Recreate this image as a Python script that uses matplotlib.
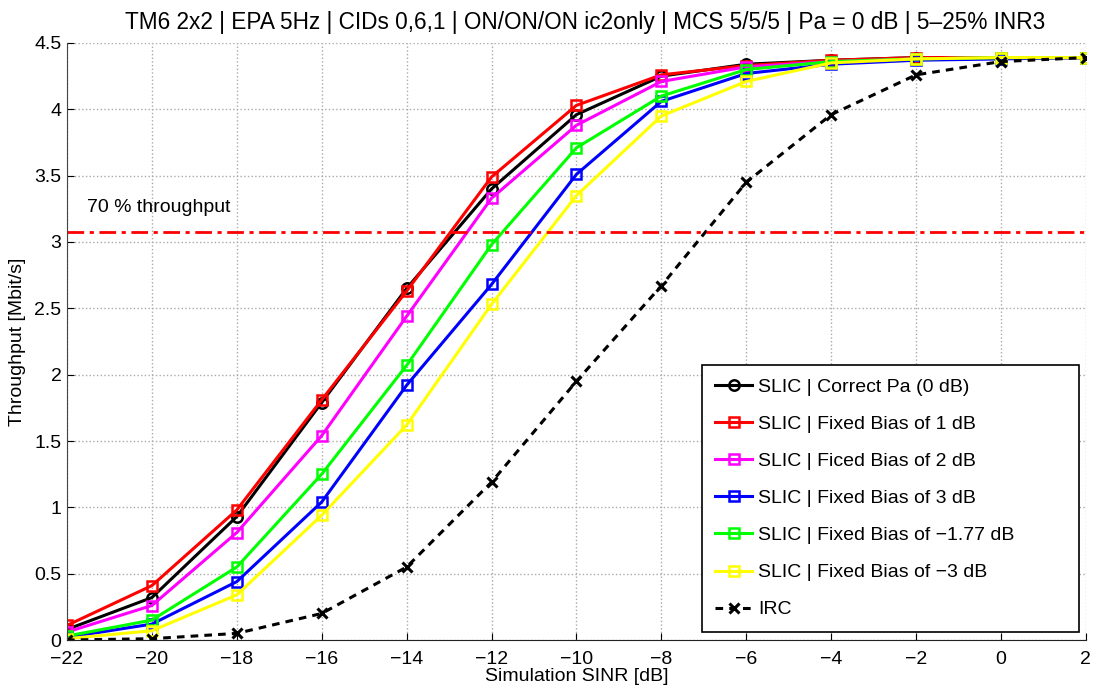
import numpy as np
import matplotlib.pyplot as plt

plt.rcParams['font.family'] = ['Liberation Sans', 'DejaVu Sans']

sinr = [-22, -20, -18, -16, -14, -12, -10, -8, -6, -4, -2, 0, 2]

slic_correct = [0.08, 0.32, 0.93, 1.79, 2.65, 3.40, 3.96, 4.25, 4.34, 4.37, 4.39, 4.39, 4.39]
slic_bias1 = [0.11, 0.41, 0.98, 1.81, 2.63, 3.49, 4.03, 4.26, 4.33, 4.37, 4.39, 4.39, 4.39]
slic_bias2 = [0.06, 0.26, 0.81, 1.54, 2.44, 3.33, 3.88, 4.21, 4.32, 4.36, 4.38, 4.39, 4.39]
slic_bias3 = [0.02, 0.12, 0.44, 1.04, 1.92, 2.68, 3.51, 4.06, 4.27, 4.34, 4.37, 4.38, 4.39]
slic_bias_m177 = [0.03, 0.15, 0.55, 1.25, 2.07, 2.98, 3.71, 4.10, 4.30, 4.36, 4.38, 4.39, 4.39]
slic_bias_m3 = [0.01, 0.07, 0.34, 0.94, 1.62, 2.53, 3.35, 3.95, 4.21, 4.35, 4.38, 4.39, 4.39]
irc = [0.00, 0.01, 0.05, 0.20, 0.55, 1.19, 1.95, 2.67, 3.45, 3.96, 4.26, 4.36, 4.39]

thr70 = 0.7 * 4.39

fig = plt.figure(figsize=(10.96, 6.89), dpi=100)
ax = fig.add_axes([0.0611, 0.0711, 0.9297, 0.8665])

lw = 2.2
ms = 6.5
ax.plot(sinr, slic_correct, color='k', lw=lw, marker='o', ms=7.5, mfc='none', mew=1.8,
        label='SLIC | Correct Pa (0 dB)')
ax.plot(sinr, slic_bias1, color='r', lw=lw, marker='s', ms=ms, mfc='none', mew=1.8,
        label='SLIC | Fixed Bias of 1 dB')
ax.plot(sinr, slic_bias2, color='#ff00ff', lw=lw, marker='s', ms=ms, mfc='none', mew=1.8,
        label='SLIC | Ficed Bias of 2 dB')
ax.plot(sinr, slic_bias3, color='b', lw=lw, marker='s', ms=ms, mfc='none', mew=1.8,
        label='SLIC | Fixed Bias of 3 dB')
ax.plot(sinr, slic_bias_m177, color='#00ff00', lw=lw, marker='s', ms=ms, mfc='none', mew=1.8,
        label='SLIC | Fixed Bias of \u22121.77 dB')
ax.plot(sinr, slic_bias_m3, color='#ffff00', lw=lw, marker='s', ms=ms, mfc='none', mew=1.8,
        label='SLIC | Fixed Bias of \u22123 dB')
ax.plot(sinr, irc, color='k', lw=lw, ls=(0, (2.5, 2)), marker='x', ms=6.5, mew=2.2,
        label='IRC')

ax.axhline(thr70, color='r', lw=2, ls=(0, (6, 2, 1.5, 2)))
ax.text(-21.53, 3.26, '70 % throughput', fontsize=14, va='center')

ax.set_xlim(-22, 2)
ax.set_ylim(0, 4.5)
ax.set_xticks(np.arange(-22, 3, 2))
ax.set_yticks(np.arange(0, 4.6, 0.5))
ax.set_xticklabels([str(v).replace('-', '\u2212') for v in range(-22, 3, 2)])
ax.set_yticklabels(['0', '0.5', '1', '1.5', '2', '2.5', '3', '3.5', '4', '4.5'])
ax.tick_params(direction='in', labelsize=14, length=5)
ax.tick_params(axis='x', pad=8)
ax.tick_params(axis='y', pad=4)
ax.grid(True, color='#aaaaaa', ls=':', lw=1)
ax.set_xlabel('Simulation SINR [dB]', fontsize=14, labelpad=0)
ax.set_ylabel('Throughput [Mbit/s]', fontsize=14, labelpad=6)
ax.set_title('TM6 2x2 | EPA 5Hz | CIDs 0,6,1 | ON/ON/ON ic2only | MCS 5/5/5 | Pa = 0 dB | 5\u201325% INR3',
             fontsize=16.3, pad=10, x=0.509)
ax.spines['top'].set_visible(False)
ax.spines['right'].set_visible(False)
ax.spines['left'].set_color('#444444')
ax.spines['bottom'].set_color('#222222')

leg = ax.legend(loc='lower left', fontsize=14, fancybox=False, framealpha=1,
                edgecolor='k', labelspacing=1.0, handlelength=1.9, handletextpad=0.3,
                borderpad=0.7, borderaxespad=0, mode='expand',
                bbox_to_anchor=(0.623, 0.0134, 0.370, 0.45))
leg.get_frame().set_linewidth(1.2)

fig.savefig('out.png', dpi=100)
